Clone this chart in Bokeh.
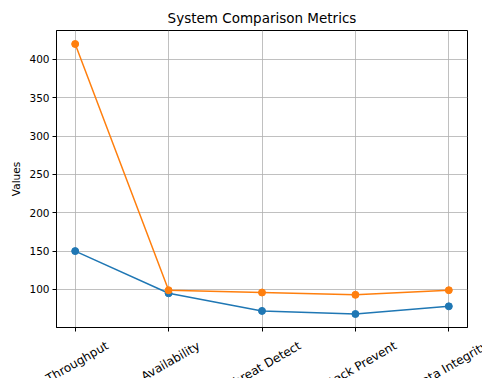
import math
from bokeh.plotting import figure
from bokeh.models import Range1d, FixedTicker
from bokeh.core.properties import value
from bokeh.embed import file_html
from bokeh.resources import INLINE

categories = ["Throughput", "Availability", "Threat Detect", "Attack Prevent", "Data Integrity"]
system_a = [150, 95, 72, 68, 78]
system_b = [420, 99, 96, 93, 99]
y_ticks = [100, 150, 200, 250, 300, 350, 400]

FONT = "DejaVu Sans"
XLABEL_PX = 12
ANGLE = math.pi / 6

# approximate DejaVu Sans advance widths (em) to place rotated labels like matplotlib
_EM = {"T": .611, "h": .634, "r": .411, "o": .612, "u": .634, "g": .635, "p": .635,
       "t": .392, "A": .684, "v": .592, "a": .613, "i": .278, "l": .278, "b": .635,
       "y": .592, "e": .615, "D": .770, "c": .550, "k": .579, "P": .603, "n": .634,
       "I": .295, " ": .318}


def text_width(s, px):
    return sum(_EM.get(ch, 0.6) for ch in s) * px


xs = list(range(len(categories)))
allv = system_a + system_b
lo, hi = min(allv), max(allv)
pad = 0.05 * (hi - lo)

p = figure(width=482, height=378, output_backend="svg", toolbar_location=None,
           x_range=Range1d(-0.2, len(categories) - 1 + 0.2),
           y_range=Range1d(lo - pad, hi + pad),
           title="System Comparison Metrics",
           min_border_left=56, min_border_right=15, min_border_top=30, min_border_bottom=51)

p.title.align = "center"
p.title.text_font = FONT
p.title.text_font_size = "13.5px"
p.title.text_font_style = "normal"
p.title.text_color = "black"

p.outline_line_color = "black"
p.outline_line_width = 1
p.outline_line_alpha = 1

p.xgrid.ticker = FixedTicker(ticks=xs)
p.ygrid.ticker = FixedTicker(ticks=y_ticks)
p.grid.grid_line_color = "#b0b0b0"
p.grid.grid_line_width = 0.8

p.xaxis.ticker = FixedTicker(ticks=xs)
p.xaxis.major_label_overrides = {i: "" for i in xs}
p.yaxis.ticker = FixedTicker(ticks=y_ticks)
p.axis.major_tick_out = 4
p.axis.major_tick_in = 0
p.axis.minor_tick_line_color = None
p.axis.major_tick_line_color = "black"
p.axis.axis_line_color = "black"
p.axis.major_label_text_font = FONT
p.axis.major_label_text_font_size = "10.5px"
p.axis.major_label_text_color = "black"
p.yaxis.major_label_standoff = 3
p.yaxis.axis_label = "Values"
p.yaxis.axis_label_text_font = FONT
p.yaxis.axis_label_text_font_size = "10.5px"
p.yaxis.axis_label_text_font_style = "normal"
p.yaxis.axis_label_text_color = "black"
p.yaxis.axis_label_standoff = 4

p.line(xs, system_a, color="#1f77b4", line_width=1.5)
p.scatter(xs, system_a, size=7, color="#1f77b4")
p.line(xs, system_b, color="#ff7f0e", line_width=1.5)
p.scatter(xs, system_b, size=7, color="#ff7f0e")

# rotated category labels: rotated bounding box top sits a fixed gap under the frame
line_h = 1.17 * XLABEL_PX
y_offs = [11 + text_width(c, XLABEL_PX) / 2 * math.sin(ANGLE) + line_h / 2 * math.cos(ANGLE)
          for c in categories]
p.text(x=xs, y=[p.y_range.start] * len(xs), text=categories, angle=ANGLE,
       text_align="center", text_baseline="middle", y_offset=y_offs, x_offset=2,
       text_font=value(FONT), text_font_size=f"{XLABEL_PX}px", text_color="black",
       level="overlay")

open("out.html", "w").write(file_html(p, INLINE))
